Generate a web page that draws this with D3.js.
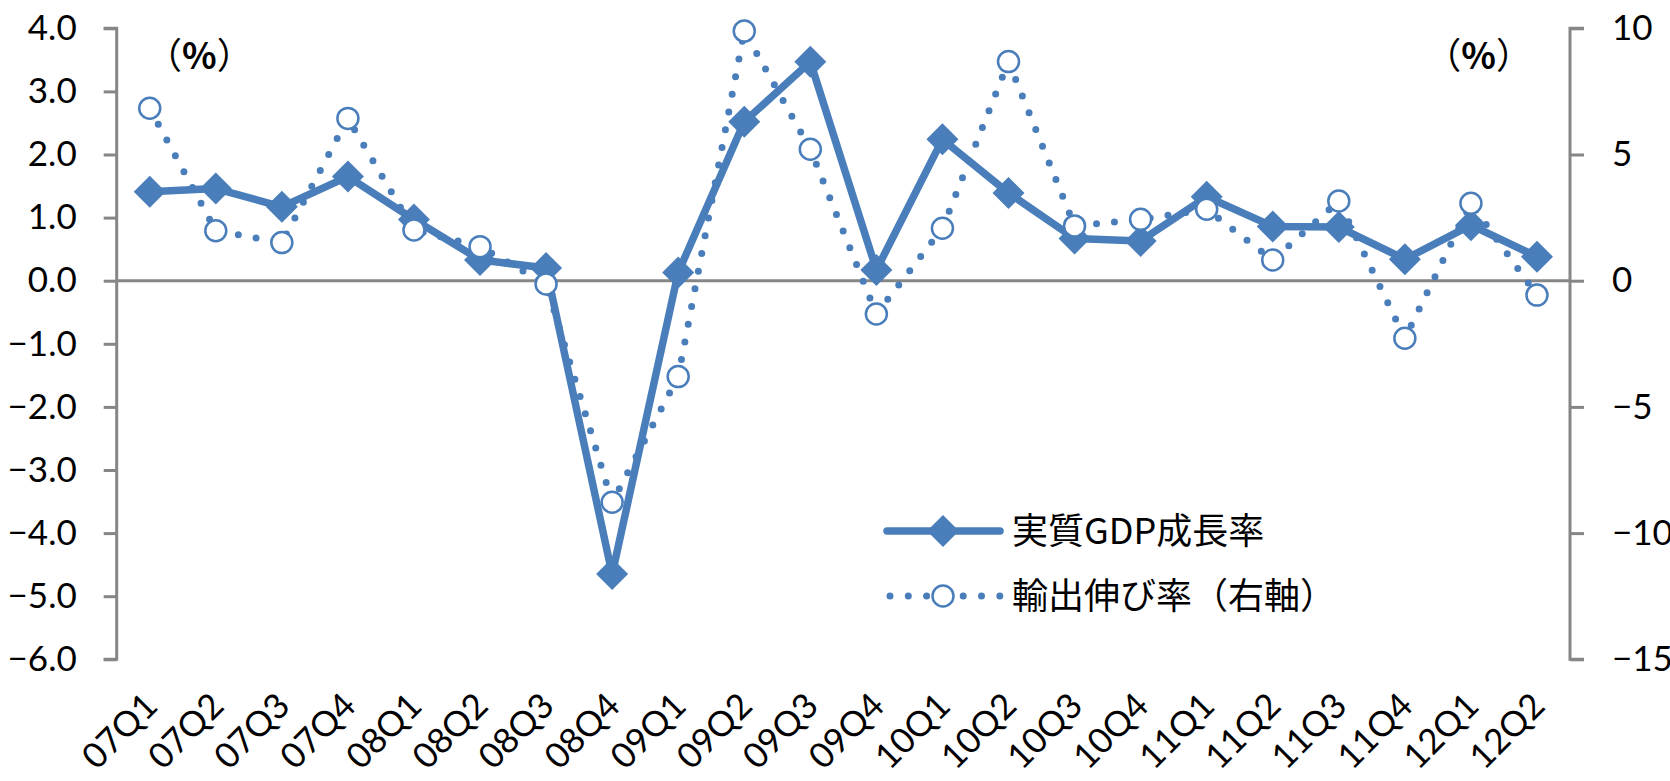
<!DOCTYPE html>
<html>
<head>
<meta charset="utf-8">
<script src="https://cdn.jsdelivr.net/npm/d3@7"></script>
<style>
  body { margin: 0; background: #fff; }
  svg { display: block; }
</style>
</head>
<body>
<script>
// quarters on the x axis
var quarters = ["07Q1","07Q2","07Q3","07Q4","08Q1","08Q2","08Q3","08Q4",
                "09Q1","09Q2","09Q3","09Q4","10Q1","10Q2","10Q3","10Q4",
                "11Q1","11Q2","11Q3","11Q4","12Q1","12Q2"];
// real GDP growth (left axis, %)
var gdpGrowth = [1.41, 1.46, 1.17, 1.65, 0.97, 0.33, 0.20, -4.65,
                 0.13, 2.52, 3.47, 0.17, 2.24, 1.39, 0.67, 0.63,
                 1.33, 0.86, 0.85, 0.34, 0.88, 0.38];
// export growth (right axis, %)
var exportGrowth = [6.83, 1.98, 1.51, 6.43, 2.01, 1.35, -0.13, -8.78,
                    -3.80, 9.89, 5.21, -1.32, 2.08, 8.68, 2.17, 2.43,
                    2.83, 0.82, 3.16, -2.28, 3.07, -0.57];
var leftTicks = [-6, -5, -4, -3, -2, -1, 0, 1, 2, 3, 4];
var rightTicks = [-15, -10, -5, 0, 5, 10];
var seriesNames = ["実質GDP成長率", "輸出伸び率（右軸）"];

var width = 1670, height = 781;
var blue = "#4a7ebb", grey = "#868686";
var latin = "Lato, 'Noto Sans', sans-serif";
var cjk = "'Noto Sans CJK JP', 'Noto Sans', sans-serif";

// plot area edges
var plot = {left: 116.7, right: 1570, top: 28.3, bottom: 659.3};

var svg = d3.select("body").append("svg")
    .attr("width", width)
    .attr("height", height);

var x = d3.scaleBand()
    .domain(quarters)
    .range([plot.left, plot.right]);
var yL = d3.scaleLinear().domain([-6, 4]).range([plot.bottom, plot.top]);
var yR = d3.scaleLinear().domain([-15, 10]).range([plot.bottom, plot.top]);
function cx(d, i) { return x(quarters[i]) + x.bandwidth() / 2; }

// left axis
var gLeft = svg.append("g")
    .attr("transform", "translate(" + plot.left + ",0)")
    .call(d3.axisLeft(yL).tickValues(leftTicks).tickFormat(d3.format(".1f"))
          .tickSize(13).tickPadding(27));
// right axis (labels run off the right edge as in the original)
var gRight = svg.append("g")
    .attr("transform", "translate(" + plot.right + ",0)")
    .call(d3.axisRight(yR).tickValues(rightTicks).tickFormat(d3.format("d"))
          .tickSize(14).tickPadding(28));

[gLeft, gRight].forEach(function(g) {
  g.select(".domain").attr("stroke", grey).attr("stroke-width", 3)
    .attr("d", g === gLeft
      ? "M-13," + plot.top + "H0V" + plot.bottom + "H-13"
      : "M14," + plot.top + "H0V" + plot.bottom + "H14");
  g.selectAll(".tick line").attr("stroke", grey).attr("stroke-width", 3);
  g.selectAll(".tick text")
    .attr("fill", "#000")
    .style("font-family", latin)
    .style("font-size", "35px");
});

// zero line
svg.append("line")
    .attr("x1", plot.left).attr("x2", plot.right)
    .attr("y1", yL(0)).attr("y2", yL(0))
    .attr("stroke", grey).attr("stroke-width", 3);

// category labels, rotated
svg.append("g").selectAll("text")
    .data(quarters)
    .enter().append("text")
    .attr("transform", function(d) {
      return "translate(" + (x(d) + x.bandwidth() / 2 + 10) + ",708) rotate(-45)";
    })
    .attr("text-anchor", "end")
    .style("font-family", latin)
    .style("font-size", "35px")
    .text(function(d) { return d; });

// GDP series
var gdpLine = d3.line()
    .x(cx)
    .y(function(d) { return yL(d); });
svg.append("path")
    .datum(gdpGrowth)
    .attr("d", gdpLine)
    .attr("fill", "none")
    .attr("stroke", blue)
    .attr("stroke-width", 7.5)
    .attr("stroke-linejoin", "round");

function diamond(px, py, r) {
  return "M" + px + "," + (py - r) + "L" + (px + r) + "," + py +
         "L" + px + "," + (py + r) + "L" + (px - r) + "," + py + "Z";
}
svg.append("g").selectAll("path")
    .data(gdpGrowth)
    .enter().append("path")
    .attr("d", function(d, i) { return diamond(cx(d, i), yL(d), 16); })
    .attr("fill", blue);

// export series
var expLine = d3.line()
    .x(cx)
    .y(function(d) { return yR(d); });
svg.append("path")
    .datum(exportGrowth)
    .attr("d", expLine)
    .attr("fill", "none")
    .attr("stroke", blue)
    .attr("stroke-width", 7)
    .attr("stroke-linecap", "round")
    .attr("stroke-dasharray", "0 18");

svg.append("g").selectAll("circle")
    .data(exportGrowth)
    .enter().append("circle")
    .attr("cx", cx)
    .attr("cy", function(d) { return yR(d); })
    .attr("r", 10.5)
    .attr("fill", "#fff")
    .attr("stroke", blue)
    .attr("stroke-width", 2.5);

// unit labels
[[146, "start"], [1532, "end"]].forEach(function(p) {
  var t = svg.append("text")
      .attr("x", p[0]).attr("y", 69)
      .attr("text-anchor", p[1])
      .style("font-family", cjk)
      .style("font-size", "36px");
  t.append("tspan").text("（");
  t.append("tspan").attr("font-weight", "bold").text("%");
  t.append("tspan").text("）");
});

// legend
var lg = svg.append("g");
lg.append("line")
    .attr("x1", 887).attr("x2", 1000).attr("y1", 531).attr("y2", 531)
    .attr("stroke", blue).attr("stroke-width", 7.5).attr("stroke-linecap", "round");
lg.append("path").attr("d", diamond(943, 531, 16)).attr("fill", blue);
lg.append("line")
    .attr("x1", 890).attr("x2", 1000).attr("y1", 596).attr("y2", 596)
    .attr("stroke", blue).attr("stroke-width", 7).attr("stroke-linecap", "round")
    .attr("stroke-dasharray", "0 18.3");
lg.append("circle")
    .attr("cx", 943).attr("cy", 596).attr("r", 10.5)
    .attr("fill", "#fff").attr("stroke", blue).attr("stroke-width", 2.5);
lg.selectAll("text")
    .data(seriesNames)
    .enter().append("text")
    .attr("x", 1012)
    .attr("y", function(d, i) { return 544 + i * 65; })
    .style("font-family", cjk)
    .style("font-size", "36px")
    .text(function(d) { return d; });
</script>
</body>
</html>
